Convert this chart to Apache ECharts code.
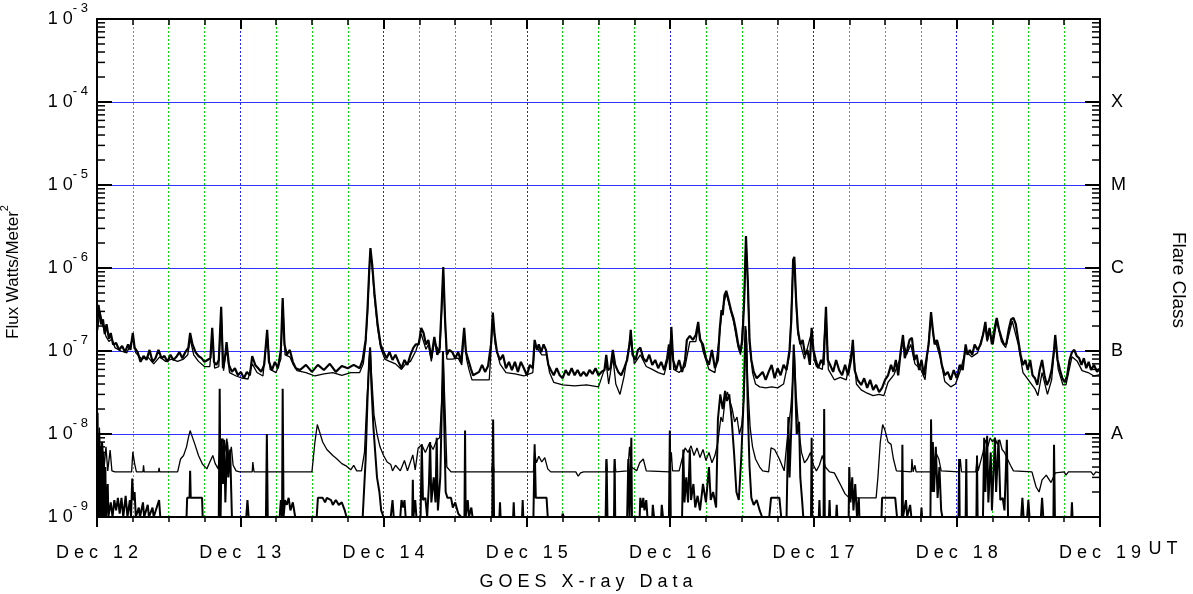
<!DOCTYPE html>
<html>
<head>
<meta charset="utf-8">
<title>GOES X-ray Data</title>
<script src="https://cdn.jsdelivr.net/npm/echarts@6/dist/echarts.min.js"></script>
<style>
  html, body { margin: 0; padding: 0; background: #fff; }
  #chart { width: 1193px; height: 594px; }
</style>
</head>
<body>
<div id="chart"></div>
<script>
// x = hours since Dec 12 00:00 UT, y = flux in W/m^2
const dayLabels = ['Dec 12', 'Dec 13', 'Dec 14', 'Dec 15', 'Dec 16', 'Dec 17', 'Dec 18', 'Dec 19']
const classNames = ['A', 'B', 'C', 'M', 'X']
const classLevels = [1e-8, 1e-7, 1e-6, 1e-5, 1e-4]

// 1-8 A channel, primary (thick)
const longPrimary = [[0,1.8e-7],[0.25,3.6e-7],[0.5,3.8e-7],[0.7,2.1e-7],[1,2.4e-7],[1.3,1.6e-7],[1.6,2.1e-7],[2,1.4e-7],[2.3,1.65e-7],[2.7,1.2e-7],[3.2,1.25e-7],[3.7,1.03e-7],[4.2,1.15e-7],[4.7,9.7e-8],[5.2,1.2e-7],[5.6,1.03e-7],[6,1.65e-7],[6.3,1.1e-7],[6.8,9.7e-8],[7.3,7.4e-8],[7.8,8.7e-8],[8.3,7.8e-8],[8.8,1.03e-7],[9.3,7.4e-8],[9.8,8.2e-8],[10.3,1.03e-7],[10.8,8.2e-8],[11.3,8.7e-8],[11.8,7.4e-8],[12.3,9e-8],[12.8,7.8e-8],[13.3,8.5e-8],[13.8,9.7e-8],[14.3,8.2e-8],[14.8,9.7e-8],[15.3,1.1e-7],[15.6,1.65e-7],[16,1.2e-7],[16.5,9.7e-8],[17,8.7e-8],[17.5,8.2e-8],[18,7.4e-8],[18.5,7.8e-8],[19,8.2e-8],[19.3,1.9e-7],[19.6,7.4e-8],[20,6.8e-8],[20.4,7.8e-8],[20.8,3.4e-7],[21.1,6.2e-8],[21.5,9e-8],[21.7,1.28e-7],[22.1,6.8e-8],[22.6,5.6e-8],[23.1,6.2e-8],[23.6,5.1e-8],[24.1,5.6e-8],[24.6,4.7e-8],[25.1,5.6e-8],[25.6,5.1e-8],[26,8.7e-8],[26.5,6.8e-8],[27,6.2e-8],[27.5,5.6e-8],[28,6.8e-8],[28.5,1.8e-7],[28.8,7.4e-8],[29.3,5.9e-8],[29.8,7.4e-8],[30.3,6.2e-8],[30.8,1.03e-7],[31.1,4.35e-7],[31.4,1.2e-7],[31.8,9e-8],[32.3,1.03e-7],[32.8,7.4e-8],[33.3,6.2e-8],[34,5.9e-8],[35,6.8e-8],[36,5.6e-8],[37,6.8e-8],[38,5.9e-8],[39,7e-8],[40,5.6e-8],[41,6.6e-8],[42,6.2e-8],[43,6.8e-8],[44,6.2e-8],[44.5,7.8e-8],[45,1.36e-7],[45.3,3.1e-7],[45.6,9.5e-7],[45.8,1.74e-6],[46.1,1.09e-6],[46.5,4.7e-7],[47,2.1e-7],[47.5,1.2e-7],[48,9.7e-8],[48.5,8.2e-8],[49,9.7e-8],[49.5,7.8e-8],[50,9e-8],[50.5,7.4e-8],[51,6.2e-8],[51.5,7.8e-8],[52,6.8e-8],[52.5,9e-8],[53,1.1e-7],[53.4,1.2e-7],[53.9,1.2e-7],[54.3,1.9e-7],[54.7,1.65e-7],[55.1,1.2e-7],[55.5,1.36e-7],[56,8.2e-8],[56.5,1.48e-7],[57,9e-8],[57.4,1.1e-7],[57.7,3.1e-7],[58,1.03e-6],[58.3,2.4e-7],[58.6,9e-8],[59,1.03e-7],[59.5,9.7e-8],[60,8.2e-8],[60.5,9.7e-8],[61,7.4e-8],[61.5,1.9e-7],[61.8,9.7e-8],[62.2,7.8e-8],[62.6,6.2e-8],[63,5.1e-8],[64,5.6e-8],[64.5,6.8e-8],[65,5.6e-8],[65.5,6.6e-8],[66,1.2e-7],[66.3,2.9e-7],[66.6,1.56e-7],[67,9.7e-8],[67.5,7.8e-8],[68,9e-8],[68.5,6.2e-8],[69,7.4e-8],[69.5,5.9e-8],[70,7.4e-8],[70.5,5.6e-8],[71,7.4e-8],[71.5,6.2e-8],[72,5.1e-8],[72.5,6.8e-8],[73,6.2e-8],[73.3,1.36e-7],[73.7,1.03e-7],[74,1.2e-7],[74.4,9.7e-8],[74.8,1.2e-7],[75.2,1.03e-7],[75.6,6.8e-8],[76,5.9e-8],[76.5,5.1e-8],[77,6.2e-8],[77.5,5.1e-8],[78,4.7e-8],[78.5,5.9e-8],[79,5.1e-8],[79.5,6.2e-8],[80,5.1e-8],[80.5,5.9e-8],[81,5e-8],[81.5,5.6e-8],[82,5e-8],[82.5,5.9e-8],[83,5.3e-8],[83.5,6.2e-8],[84,5.1e-8],[84.5,5.6e-8],[85,5.9e-8],[85.3,9e-8],[85.6,5.9e-8],[86,6.2e-8],[86.4,1.03e-7],[86.8,6.8e-8],[87.3,5.6e-8],[87.8,5.1e-8],[88.3,6.2e-8],[88.8,7.8e-8],[89.2,1.2e-7],[89.4,1.8e-7],[89.7,9e-8],[90.2,7.8e-8],[90.6,1.03e-7],[91,1.1e-7],[91.5,8.2e-8],[92,7.4e-8],[92.5,9e-8],[93,6.8e-8],[93.5,7.8e-8],[94,6.2e-8],[94.5,7.4e-8],[95,5.9e-8],[95.5,8.2e-8],[95.8,1.2e-7],[96,5.9e-8],[96.2,1.95e-7],[96.5,7.8e-8],[97,5.9e-8],[97.5,7.8e-8],[98,5.6e-8],[98.5,7.8e-8],[98.8,1.36e-7],[99.3,1.52e-7],[99.8,1.36e-7],[100.3,1.56e-7],[100.7,2.24e-7],[101,1.36e-7],[101.5,1.2e-7],[102,8.2e-8],[102.5,6.8e-8],[103,1.03e-7],[103.5,6.2e-8],[104,7.8e-8],[104.3,1.8e-7],[104.6,3.1e-7],[104.8,2.7e-7],[105.1,4.7e-7],[105.4,5.3e-7],[105.8,4.1e-7],[106.2,3.1e-7],[106.6,2.5e-7],[107,1.8e-7],[107.4,1.2e-7],[107.8,9.7e-8],[108.1,1.36e-7],[108.4,4.1e-7],[108.7,2.43e-6],[109,7.2e-7],[109.3,1.36e-7],[109.6,7.8e-8],[110,5.6e-8],[110.5,4.7e-8],[111,5.1e-8],[111.5,5.6e-8],[112,4.5e-8],[112.5,5.6e-8],[113,6.8e-8],[113.5,4.7e-8],[114,6.2e-8],[114.5,5.1e-8],[115,6.8e-8],[115.5,5.9e-8],[116,1.03e-7],[116.3,2.4e-7],[116.6,1.25e-6],[116.8,1.36e-6],[117.1,4.1e-7],[117.4,1.8e-7],[117.8,1.2e-7],[118.2,1.36e-7],[118.6,9e-8],[119,1.03e-7],[119.4,6.8e-8],[119.7,1.9e-7],[120,1.03e-7],[120.4,7.8e-8],[120.8,6.2e-8],[121.3,7.8e-8],[121.7,6.8e-8],[122.1,3.4e-7],[122.4,7.8e-8],[122.8,6.8e-8],[123.3,5.6e-8],[123.8,7.8e-8],[124.3,5.9e-8],[124.8,5.1e-8],[125.3,6.8e-8],[125.8,5.1e-8],[126.3,7.8e-8],[126.6,1.36e-7],[126.9,5.9e-8],[127.4,4.5e-8],[128,3.9e-8],[128.5,4.7e-8],[129,3.6e-8],[129.5,4.5e-8],[130,3.4e-8],[130.5,3.9e-8],[131,3.2e-8],[131.5,3.6e-8],[132,4.5e-8],[132.5,5.1e-8],[133,6.8e-8],[133.4,5.6e-8],[133.8,7.8e-8],[134.2,5.1e-8],[134.6,9.7e-8],[135,1.56e-7],[135.3,8.2e-8],[135.7,1.03e-7],[136.1,1.36e-7],[136.5,1.44e-7],[136.9,7.8e-8],[137.3,9e-8],[137.7,5.9e-8],[138.1,7.8e-8],[138.5,5.1e-8],[138.9,7.8e-8],[139.3,1.2e-7],[139.7,2.95e-7],[140,1.8e-7],[140.3,1.2e-7],[140.7,1.36e-7],[141.1,1.03e-7],[141.5,6.8e-8],[142,5.1e-8],[142.5,5.6e-8],[143,4.5e-8],[143.5,5.9e-8],[144,4.7e-8],[144.5,6.8e-8],[145,5.9e-8],[145.5,1.2e-7],[145.8,9e-8],[146.2,1.03e-7],[146.6,9e-8],[147,1.2e-7],[147.5,1.03e-7],[148,1.2e-7],[148.4,1.56e-7],[148.8,2.24e-7],[149.1,1.36e-7],[149.5,1.9e-7],[149.9,1.2e-7],[150.3,1.8e-7],[150.7,2.5e-7],[151.1,1.8e-7],[151.5,1.44e-7],[151.9,1.2e-7],[152.3,1.21e-7],[152.7,1.8e-7],[153.1,2.4e-7],[153.5,2.5e-7],[153.9,2.1e-7],[154.3,1.36e-7],[154.7,9e-8],[155.1,6.8e-8],[155.5,7.8e-8],[155.9,5.9e-8],[156.3,7.8e-8],[156.7,5.1e-8],[157.1,4.7e-8],[157.5,3.9e-8],[157.9,5.9e-8],[158.3,7.8e-8],[158.7,5.1e-8],[159.1,3.9e-8],[159.5,4.5e-8],[159.9,5.9e-8],[160.3,1.03e-7],[160.5,1.56e-7],[160.9,7.8e-8],[161.3,5.9e-8],[161.7,4.7e-8],[162.1,4.2e-8],[162.5,5.1e-8],[162.9,7.8e-8],[163.3,9.7e-8],[163.7,1.03e-7],[164.1,8.7e-8],[164.5,8.2e-8],[164.9,6.8e-8],[165.3,8.2e-8],[165.7,6.2e-8],[166.1,7.4e-8],[166.5,5.9e-8],[167,6.8e-8],[167.5,5.6e-8],[168,6.2e-8]]

// 1-8 A channel, secondary (thin)
const longSecondary = [[0,1.6e-7],[0.5,3e-7],[1,2e-7],[1.5,1.5e-7],[2,1.3e-7],[2.5,1.4e-7],[3,1.1e-7],[4,1e-7],[5,9.5e-8],[6,1.4e-7],[6.5,9.5e-8],[7.5,8e-8],[8.5,8.5e-8],[9.5,7e-8],[10.5,8.5e-8],[11.5,7.5e-8],[12.5,8e-8],[13.5,7.5e-8],[14.5,8e-8],[15.2,9e-8],[15.6,1.4e-7],[16.2,9e-8],[17,7.5e-8],[18,6.5e-8],[18.9,6.5e-8],[19.3,1.6e-7],[19.7,6.2e-8],[20.4,6.5e-8],[20.8,3e-7],[21.2,5.8e-8],[21.7,1.1e-7],[22.2,5.5e-8],[23.3,5e-8],[24.3,4.7e-8],[25.3,4.6e-8],[26,7e-8],[26.8,5.5e-8],[27.8,5e-8],[28.5,1.6e-7],[29,6e-8],[30,5.5e-8],[30.8,8e-8],[31.1,4e-7],[31.5,9e-8],[32.3,8.5e-8],[32.8,7e-8],[33.5,5.8e-8],[35,5.5e-8],[36.5,5e-8],[38,5.3e-8],[39.5,5.5e-8],[41,5.1e-8],[42.5,5.5e-8],[44,5.5e-8],[44.6,7e-8],[45,1.2e-7],[45.3,2.8e-7],[45.6,9e-7],[45.8,1.6e-6],[46.1,1e-6],[46.5,4.2e-7],[47,1.9e-7],[47.5,1.1e-7],[48.2,8e-8],[49,7.5e-8],[50,7e-8],[51,6e-8],[51.7,7e-8],[52.5,7.5e-8],[53.4,1e-7],[54.3,1.6e-7],[55.1,1.05e-7],[55.5,1.2e-7],[56,7.5e-8],[56.5,1.3e-7],[57.4,9.5e-8],[57.7,2.8e-7],[58,9.5e-7],[58.3,2.2e-7],[58.6,8e-8],[59.5,8e-8],[60.5,8.2e-8],[61.1,6.8e-8],[61.5,1.7e-7],[61.9,8e-8],[62.3,6e-8],[62.8,4.5e-8],[64.5,4.5e-8],[65.7,4.5e-8],[66,1e-7],[66.3,2.7e-7],[66.7,1.2e-7],[67.5,7e-8],[68.5,5.5e-8],[70,5.3e-8],[71.5,5e-8],[73,5.5e-8],[73.3,1.2e-7],[74.5,9e-8],[75.3,9e-8],[75.8,5.5e-8],[76.5,4.2e-8],[78,3.9e-8],[80,3.8e-8],[82,3.9e-8],[84,3.7e-8],[85.3,7e-8],[85.7,4e-8],[86.4,8.5e-8],[86.9,4e-8],[87.6,3e-8],[88.3,5e-8],[89.4,1.6e-7],[90,7e-8],[91,9e-8],[92,6.5e-8],[93,6e-8],[94,5.5e-8],[95,5.2e-8],[95.8,9e-8],[96.2,1.7e-7],[96.6,6e-8],[97.5,5.5e-8],[98.5,6.5e-8],[99.3,1.3e-7],[100.3,1.3e-7],[100.7,2e-7],[101.5,1e-7],[102.5,6e-8],[103.5,5.5e-8],[104.3,1.6e-7],[104.6,2.8e-7],[105.4,5e-7],[106.2,2.9e-7],[106.6,2.3e-7],[107.4,1.1e-7],[107.8,9e-8],[108.4,3.8e-7],[108.7,2.3e-6],[109,6.5e-7],[109.3,1.2e-7],[109.8,5.5e-8],[110.3,4e-8],[111,3.7e-8],[112,3.6e-8],[113,3.7e-8],[114,3.6e-8],[115,4e-8],[116,9e-8],[116.6,1.15e-6],[116.8,1.3e-6],[117.1,3.8e-7],[117.4,1.6e-7],[118.5,8e-8],[119.7,1.7e-7],[120.1,8e-8],[120.5,6.5e-8],[121.5,6e-8],[122.1,3e-7],[122.5,6e-8],[123.5,4.5e-8],[124.5,4.8e-8],[125.5,4.5e-8],[126.6,1.2e-7],[127.2,4e-8],[128,3.4e-8],[129,3.1e-8],[130,2.9e-8],[131,3e-8],[131.8,2.9e-8],[132.5,4.2e-8],[133.5,5.2e-8],[134.5,8e-8],[135,1.4e-7],[135.6,9e-8],[136.3,1.2e-7],[137,7e-8],[138,6e-8],[138.7,4.5e-8],[139.7,2.7e-7],[140.1,1.5e-7],[140.6,1.2e-7],[141.3,8e-8],[142,4.3e-8],[143,3.7e-8],[143.8,4e-8],[144.5,5.5e-8],[145.5,1e-7],[146.5,8.5e-8],[147.5,9.5e-8],[148.8,2e-7],[149.1,1.3e-7],[149.5,1.7e-7],[150.1,1.2e-7],[150.7,2.3e-7],[151.5,1.3e-7],[152.2,1.1e-7],[153.3,2.3e-7],[154.3,1.2e-7],[155.1,5.5e-8],[156,4.5e-8],[157.1,3.5e-8],[157.6,2.9e-8],[158.3,5.5e-8],[159.2,3e-8],[159.9,4.5e-8],[160.5,1.4e-7],[161,6e-8],[161.8,3.9e-8],[162.3,3.9e-8],[163.3,8.5e-8],[164.2,7.5e-8],[165,5.8e-8],[166,5.5e-8],[167,5e-8],[168,5.2e-8]]

// 0.5-4 A channel, primary (thick, floors at 1e-9)
const shortPrimary = [[0,1e-9],[0.1,1.8e-8],[0.2,1e-9],[0.3,1e-8],[0.4,1e-9],[0.5,7e-9],[0.6,1e-9],[0.8,8e-9],[0.9,1e-9],[1.1,6e-9],[1.2,1e-9],[1.4,4e-9],[1.5,1e-9],[1.8,2.5e-9],[1.9,1e-9],[2.3,1.5e-9],[2.6,1e-9],[2.9,1.6e-9],[3.2,1.2e-9],[3.5,1.7e-9],[3.8,1.1e-9],[4.1,1.7e-9],[4.4,1e-9],[4.8,1.8e-9],[5.1,1e-9],[5.5,1.6e-9],[5.7,1e-9],[5.9,2.9e-9],[6.1,1.6e-9],[6.3,2e-9],[6.5,1e-9],[7,1.3e-9],[7.2,1e-9],[7.7,1.5e-9],[7.9,1e-9],[8.5,1.4e-9],[8.7,1e-9],[9.3,1.3e-9],[9.5,1e-9],[10.4,1.6e-9],[10.6,1e-9],[15,1e-9],[15.1,1.7e-9],[15.5,1.7e-9],[15.6,3.6e-9],[15.7,1.7e-9],[17.6,1.7e-9],[17.7,1e-9],[20.4,1e-9],[20.55,3.5e-8],[20.7,1e-9],[20.9,8.8e-9],[21.1,2.5e-9],[21.3,8.5e-9],[21.5,1.5e-9],[21.8,8e-9],[22,3e-9],[22.3,6.5e-9],[22.6,1e-9],[25,1e-9],[25.2,1.6e-9],[25.4,1e-9],[28.3,1e-9],[28.45,1e-8],[28.6,1e-9],[30.6,1e-9],[30.8,1.6e-9],[31,1e-9],[31.1,3.5e-8],[31.25,1e-9],[31.5,1.6e-9],[31.8,1.4e-9],[32.1,1.7e-9],[32.4,1.2e-9],[32.8,1.5e-9],[33.2,1e-9],[36.8,1e-9],[37,1.7e-9],[37.8,1.7e-9],[38.2,1.5e-9],[38.5,1.7e-9],[39.2,1.6e-9],[39.5,1.4e-9],[40,1.6e-9],[40.5,1.4e-9],[41,1.5e-9],[41.5,1.2e-9],[41.8,1e-9],[44.5,1e-9],[45,5e-9],[45.3,2.5e-8],[45.6,8e-8],[45.75,1.1e-7],[45.95,4e-8],[46.3,1.2e-8],[46.6,6e-9],[46.9,3e-9],[47.3,2e-9],[47.6,1.2e-9],[48,1e-9],[49.2,1e-9],[49.5,1.6e-9],[49.7,1e-9],[50.8,1e-9],[51,1.6e-9],[51.3,1.3e-9],[51.5,1.6e-9],[51.7,1e-9],[52.8,1e-9],[52.9,2.8e-9],[53,1e-9],[53.3,1.6e-9],[53.5,1e-9],[54.2,1e-9],[54.4,7.5e-9],[54.6,1.6e-9],[55,1.7e-9],[55.3,1e-9],[55.6,2.5e-9],[55.8,8e-9],[56,1.5e-9],[56.4,3e-9],[56.7,1.5e-9],[56.9,9e-9],[57.1,1.2e-9],[57.5,3e-9],[57.8,3e-8],[57.95,1e-7],[58.15,1.5e-8],[58.4,2e-9],[58.7,1.7e-9],[59.3,1.7e-9],[59.6,1.3e-9],[60,1.5e-9],[60.5,1.1e-9],[61,1e-9],[61.55,1e-9],[61.65,1.1e-8],[61.75,1e-9],[62.1,1.6e-9],[62.3,1e-9],[62.7,1.3e-9],[62.9,1e-9],[66.2,1e-9],[66.35,1.5e-8],[66.5,1e-9],[67.4,1e-9],[67.5,1.5e-9],[67.6,1e-9],[69.7,1e-9],[69.8,1.5e-9],[69.9,1e-9],[71.2,1e-9],[71.3,1.6e-9],[71.4,1e-9],[73.1,1e-9],[73.3,7.5e-9],[73.5,1.7e-9],[75.3,1.7e-9],[75.5,1e-9],[77.9,1e-9],[78,1.1e-9],[78.2,1e-9],[85.2,1e-9],[85.35,5e-9],[85.5,1e-9],[86.6,1e-9],[86.7,5e-9],[86.8,1e-9],[88.8,1e-9],[89,5e-9],[89.2,1e-9],[89.5,9e-9],[89.6,1e-9],[90.9,1e-9],[91,1.7e-9],[91.3,1.3e-9],[91.5,1.7e-9],[91.7,1.2e-9],[92,1.6e-9],[92.2,1e-9],[93,1e-9],[93.1,1.4e-9],[93.3,1e-9],[94.5,1e-9],[94.6,1.4e-9],[94.8,1e-9],[95.8,1e-9],[95.95,1.1e-8],[96.1,1e-9],[98,1e-9],[98.2,6.5e-9],[98.4,1.5e-9],[98.7,3e-9],[99,1.5e-9],[99.3,6.5e-9],[99.5,1.6e-9],[99.9,2.5e-9],[100.2,1.3e-9],[100.6,1.8e-9],[101,1.2e-9],[101.5,2.5e-9],[102,1.5e-9],[102.5,4e-9],[102.8,1.6e-9],[103.2,2e-9],[103.7,1.3e-9],[104,1.5e-8],[104.4,3e-8],[104.8,2e-8],[105.2,3.3e-8],[105.5,2.5e-8],[105.9,3e-8],[106.3,1.5e-8],[106.7,6e-9],[107.1,2e-9],[107.5,1.6e-9],[107.9,5e-9],[108.3,2.5e-8],[108.6,2e-7],[108.8,1.2e-7],[109,2e-8],[109.3,4e-9],[109.6,1.7e-9],[110,1.4e-9],[110.5,1.6e-9],[111,1.2e-9],[111.4,1e-9],[112.6,1e-9],[112.9,1.7e-9],[114.3,1.7e-9],[114.6,1e-9],[115.5,1e-9],[115.8,1.6e-8],[116,3e-9],[116.4,2e-8],[116.7,1.2e-7],[116.9,5e-8],[117.2,1e-8],[117.6,1.4e-8],[117.8,3e-9],[118.1,1.6e-9],[118.3,1e-9],[119.6,1e-9],[119.7,9e-9],[119.8,1e-9],[120.9,1e-9],[121,1.6e-9],[121.1,1e-9],[121.7,1e-9],[121.8,2e-8],[121.9,1e-9],[122.6,1e-9],[122.7,1.6e-9],[122.8,1e-9],[123.8,1e-9],[123.9,1.4e-9],[124,1e-9],[125.9,1e-9],[126,4e-9],[126.2,1.5e-9],[126.5,3e-9],[126.7,1.2e-9],[127,2.5e-9],[127.3,1e-9],[127.6,1.7e-9],[127.7,1e-9],[131.4,1e-9],[131.5,1.7e-9],[133.7,1.7e-9],[134,1e-9],[134.8,1e-9],[134.9,7.4e-9],[135,1e-9],[135.5,1.6e-9],[135.7,1e-9],[136.2,1.4e-9],[136.4,1e-9],[138,1e-9],[138.1,1.3e-9],[138.2,1e-9],[139.6,1e-9],[139.7,1.5e-8],[139.85,2e-9],[140,8e-9],[140.2,2e-9],[140.5,7e-9],[140.8,1.7e-9],[141.1,4e-9],[141.4,1.2e-9],[141.6,1e-9],[144.3,1e-9],[144.4,5e-9],[144.5,1e-9],[145.5,1e-9],[145.6,5e-9],[145.7,1e-9],[147.3,1e-9],[147.4,5.5e-9],[147.5,1e-9],[148.4,1e-9],[148.6,9e-9],[148.8,2e-9],[149.1,9.5e-9],[149.3,1.5e-9],[149.7,6e-9],[149.9,1.2e-9],[150.4,9e-9],[150.6,2e-9],[151,8.5e-9],[151.3,1.6e-9],[151.7,1.7e-9],[152,1.2e-9],[152.4,8.5e-9],[152.6,1e-9],[154.8,1e-9],[155,1.7e-9],[155.2,1e-9],[155.8,1e-9],[156,1.6e-9],[156.2,1e-9],[158.1,1e-9],[158.3,1.7e-9],[158.5,1e-9],[160.2,1e-9],[160.3,7.4e-9],[160.45,1e-9],[163.2,1e-9],[163.3,1.5e-9],[163.4,1e-9],[168,1e-9]]

// 0.5-4 A channel, secondary (thin, floors near 3.5e-9)
const shortSecondary = [[0,1.5e-8],[0.2,5e-9],[0.4,1.2e-8],[0.6,4.5e-9],[0.9,8e-9],[1.2,4e-9],[1.5,7e-9],[1.8,3.6e-9],[2.2,6.4e-9],[2.5,3.6e-9],[3,3.5e-9],[5.8,3.5e-9],[6,6.1e-9],[6.3,4.4e-9],[6.6,3.5e-9],[7.7,3.5e-9],[7.8,4.2e-9],[7.9,3.5e-9],[10.3,3.5e-9],[10.4,3.9e-9],[10.5,3.5e-9],[13.5,3.5e-9],[14,5e-9],[14.5,5.5e-9],[15,7e-9],[15.3,9e-9],[15.6,1.1e-8],[15.9,9.5e-9],[16.4,7.5e-9],[17,5.5e-9],[17.7,4.3e-9],[18.4,3.8e-9],[18.9,4.6e-9],[19.4,5.5e-9],[19.8,4.4e-9],[20.3,3.8e-9],[20.6,7e-9],[21.1,8.8e-9],[21.4,6e-9],[21.75,8.8e-9],[22.1,5e-9],[22.5,7e-9],[22.8,4.2e-9],[23.3,3.6e-9],[23.9,3.5e-9],[26,3.5e-9],[26.1,4.6e-9],[26.3,3.5e-9],[36,3.5e-9],[36.5,8e-9],[36.9,1.3e-8],[37.3,1.05e-8],[37.8,8e-9],[38.5,6.5e-9],[39.5,5.5e-9],[40.2,5e-9],[41,4.4e-9],[41.8,4.1e-9],[42.5,3.7e-9],[43,4.2e-9],[43.5,3.6e-9],[44.3,3.6e-9],[44.8,6e-9],[45.2,2.5e-8],[45.5,6e-8],[45.75,1.1e-7],[46,5e-8],[46.4,1.7e-8],[46.9,1e-8],[47.4,7e-9],[48,5.5e-9],[48.6,4.6e-9],[49.2,4.3e-9],[49.5,3.6e-9],[50,4.2e-9],[50.8,3.6e-9],[51.5,4.8e-9],[52,3.6e-9],[52.9,5.6e-9],[53.3,3.7e-9],[53.8,6.8e-9],[54.4,7.4e-9],[55,6e-9],[55.7,7.8e-9],[56.3,6.5e-9],[56.9,8.5e-9],[57.4,9e-9],[57.8,3e-8],[58,8e-8],[58.3,2e-8],[58.6,4e-9],[59.3,3.5e-9],[66.1,3.5e-9],[66.3,5e-9],[66.5,3.5e-9],[73.1,3.5e-9],[73.3,6.1e-9],[73.6,4.5e-9],[74,5.4e-9],[74.5,4.6e-9],[75,5.2e-9],[75.5,3.8e-9],[76,3.5e-9],[80.2,3.5e-9],[80.6,3.1e-9],[81,3.4e-9],[81.5,3.5e-9],[85.2,3.5e-9],[85.3,5e-9],[85.5,3.5e-9],[86.6,3.5e-9],[86.7,5e-9],[86.9,3.5e-9],[88.9,3.6e-9],[89.2,7e-9],[89.5,4e-9],[90.4,3.6e-9],[90.9,4.5e-9],[91.5,5e-9],[92,3.6e-9],[95.9,3.5e-9],[96.2,6e-9],[96.4,3.6e-9],[97.5,3.6e-9],[98,5e-9],[98.5,6.8e-9],[99,6e-9],[99.5,7.2e-9],[100,5.5e-9],[100.5,6.8e-9],[101,5.2e-9],[101.5,6.5e-9],[102,4.8e-9],[102.5,6e-9],[103,4.5e-9],[103.5,5.5e-9],[104,8e-9],[104.5,1.6e-8],[104.8,1.4e-8],[105.2,2.6e-8],[105.6,3.2e-8],[106,2.5e-8],[106.4,2e-8],[106.8,1.4e-8],[107.2,1.6e-8],[107.6,1e-8],[108,1.3e-8],[108.4,3e-8],[108.7,1.8e-7],[109,4e-8],[109.4,1.2e-8],[109.8,7e-9],[110.3,5e-9],[111,4e-9],[111.5,3.6e-9],[112.5,3.5e-9],[112.9,6.8e-9],[113.5,6.5e-9],[114.3,5e-9],[115.1,3.6e-9],[115.8,1.2e-8],[116.2,2e-8],[116.5,4e-8],[116.8,1e-7],[117.1,3e-8],[117.5,1.2e-8],[118,6e-9],[118.5,4.5e-9],[119,5e-9],[119.5,6e-9],[120,4.2e-9],[120.5,3.6e-9],[121,4.2e-9],[121.5,5.5e-9],[122,4e-9],[122.7,3.5e-9],[123.5,3.4e-9],[124,2.9e-9],[124.6,2.4e-9],[125.3,1.9e-9],[126,1.7e-9],[130.5,1.7e-9],[130.8,3e-9],[131.2,8e-9],[131.6,1.3e-8],[132,1.1e-8],[132.5,8e-9],[133,7.5e-9],[133.4,5e-9],[133.9,3.6e-9],[136.4,3.5e-9],[136.5,5e-9],[136.7,3.5e-9],[137,4.2e-9],[137.2,3.5e-9],[140,3.5e-9],[140.5,6e-9],[141,5e-9],[141.4,3.6e-9],[144.4,3.5e-9],[144.6,5e-9],[144.8,3.5e-9],[147.2,3.5e-9],[147.4,5e-9],[147.6,3.6e-9],[148.4,6e-9],[148.8,8.5e-9],[149.2,7e-9],[149.6,9e-9],[150,8e-9],[150.4,9e-9],[150.8,7.5e-9],[151.2,8.5e-9],[151.6,6.5e-9],[152,6e-9],[152.5,5e-9],[153,4.2e-9],[153.5,3.6e-9],[156.6,3.5e-9],[157.3,2.3e-9],[157.8,2e-9],[158.3,2.8e-9],[159,3.2e-9],[159.8,2.6e-9],[160.5,3.4e-9],[162,3.5e-9],[162.3,3.2e-9],[162.7,3.5e-9],[166.5,3.5e-9],[166.9,3.2e-9],[167.3,3.5e-9],[168,3.4e-9]]

const FONT = '"Liberation Sans", Arial, Helvetica, sans-serif'
const BLUE = '#3232ff'
const spaced = s => s.split('').join(' ')

// log minor tick positions (2..9 per decade)
const minorTicks = []
for (let e = -9; e < -3; e++) {
  for (let m = 2; m <= 9; m++) minorTicks.push(m * Math.pow(10, e))
}

const chart = echarts.init(document.getElementById('chart'))

const logAxisBase = {
  type: 'log',
  logBase: 10,
  min: 1e-9,
  max: 1e-3,
  axisLine: { show: true, onZero: false, lineStyle: { color: '#000', width: 2 } },
  axisTick: { show: true, inside: true, length: 15, lineStyle: { color: '#000', width: 2 } }
}

const option = {
  animation: false,
  backgroundColor: '#fff',
  grid: { left: 97, right: 93, top: 19, bottom: 77, containLabel: false },
  xAxis: [
    {
      type: 'value',
      min: 0,
      max: 168,
      interval: 24,
      axisLine: { show: true, onZero: false, lineStyle: { color: '#000', width: 2 } },
      axisTick: { show: true, inside: false, length: 10, lineStyle: { color: '#000', width: 2 } },
      minorTick: { show: true, splitNumber: 4, length: 5, lineStyle: { color: '#000', width: 1.5 } },
      axisLabel: {
        margin: 27,
        fontSize: 18,
        fontFamily: FONT,
        color: '#000',
        formatter: v => spaced(dayLabels[Math.round(v / 24)] || '')
      },
      splitLine: {
        show: true,
        showMinLine: false,
        showMaxLine: false,
        lineStyle: { color: '#2020ff', type: [2, 2], width: 1 }
      },
      minorSplitLine: { show: true, lineStyle: { color: '#00e000', type: [2, 2], width: 1 } }
    },
    {
      type: 'value',
      position: 'top',
      min: 0,
      max: 168,
      interval: 24,
      axisLine: { show: true, onZero: false, lineStyle: { color: '#000', width: 2 } },
      axisTick: { show: true, inside: true, length: 10, lineStyle: { color: '#000', width: 2 } },
      minorTick: { show: true, splitNumber: 4, length: 6, lineStyle: { color: '#000', width: 1.5 } },
      axisLabel: { show: false },
      splitLine: { show: false }
    }
  ],
  yAxis: [
    Object.assign({}, logAxisBase, {
      position: 'left',
      axisLabel: {
        margin: 9,
        color: '#000',
        fontFamily: FONT,
        formatter: v => '{b|' + spaced('10') + '}{s|' + spaced(String(Math.round(Math.log10(v)))) + '}',
        rich: {
          b: { fontSize: 18, lineHeight: 34, fontFamily: FONT, color: '#000' },
          s: { fontSize: 13, lineHeight: 13, verticalAlign: 'top', fontFamily: FONT, color: '#000' }
        }
      },
      splitLine: {
        show: true,
        showMinLine: false,
        showMaxLine: false,
        lineStyle: { color: BLUE, width: 1 }
      }
    }),
    Object.assign({}, logAxisBase, {
      position: 'right',
      axisLabel: {
        margin: 11,
        fontSize: 18,
        fontFamily: FONT,
        color: '#000',
        formatter: v => {
          const i = classLevels.findIndex(l => Math.abs(Math.log10(l) - Math.log10(v)) < 0.01)
          return i >= 0 ? classNames[i] : ''
        }
      },
      splitLine: { show: false }
    })
  ],
  graphic: [
    {
      type: 'text',
      x: 586,
      y: 582,
      style: { text: spaced('GOES X-ray Data'), fontSize: 18, fontFamily: FONT, fill: '#000', align: 'center', verticalAlign: 'middle' }
    },
    {
      type: 'text',
      x: 1163,
      y: 549,
      style: { text: spaced('UT'), fontSize: 18, fontFamily: FONT, fill: '#000', align: 'center', verticalAlign: 'middle' }
    },
    {
      type: 'text',
      x: 1178,
      y: 280,
      rotation: -Math.PI / 2,
      style: { text: 'Flare Class', fontSize: 19, fontFamily: FONT, fill: '#000', align: 'center', verticalAlign: 'middle' }
    },
    {
      type: 'text',
      x: 13,
      y: 272,
      rotation: Math.PI / 2,
      style: {
        text: '{a|Flux Watts/Meter}{s|2}',
        align: 'center',
        verticalAlign: 'middle',
        rich: {
          a: { fontSize: 17, lineHeight: 28, fontFamily: FONT, fill: '#000' },
          s: { fontSize: 11, lineHeight: 11, verticalAlign: 'top', fontFamily: FONT, fill: '#000' }
        }
      }
    }
  ],
  series: [
    {
      name: 'minor ticks',
      type: 'custom',
      silent: true,
      clip: false,
      data: minorTicks.map(v => [0, v]),
      renderItem: (params, api) => {
        const v = api.value(1)
        const l = api.coord([0, v])
        const r = api.coord([168, v])
        return {
          type: 'group',
          children: [
            { type: 'line', shape: { x1: l[0], y1: l[1], x2: l[0] + 8, y2: l[1] }, style: { stroke: '#000', lineWidth: 1.5 } },
            { type: 'line', shape: { x1: r[0], y1: r[1], x2: r[0] - 8, y2: r[1] }, style: { stroke: '#000', lineWidth: 1.5 } }
          ]
        }
      }
    },
    {
      name: 'short secondary',
      type: 'line',
      data: shortSecondary,
      showSymbol: false,
      lineStyle: { color: '#000', width: 1.3 }
    },
    {
      name: 'short primary',
      type: 'line',
      data: shortPrimary,
      showSymbol: false,
      lineStyle: { color: '#000', width: 2 }
    },
    {
      name: 'long secondary',
      type: 'line',
      data: longSecondary,
      showSymbol: false,
      lineStyle: { color: '#000', width: 1.3 }
    },
    {
      name: 'long primary',
      type: 'line',
      data: longPrimary,
      showSymbol: false,
      lineStyle: { color: '#000', width: 2.2 }
    }
  ]
}

chart.setOption(option)
window.addEventListener('resize', () => { chart.resize() })
</script>
</body>
</html>
